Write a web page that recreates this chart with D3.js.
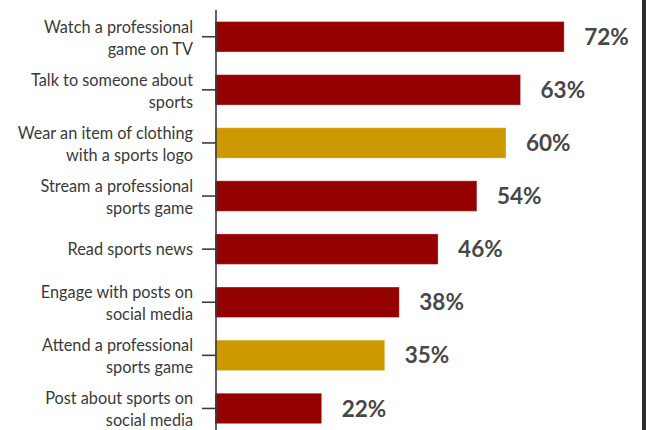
<!DOCTYPE html>
<html>
<head>
<meta charset="utf-8">
<script src="https://cdn.jsdelivr.net/npm/d3@7"></script>
<style>
  html, body { margin: 0; padding: 0; background: #fff; }
  svg { display: block; }
</style>
</head>
<body>
<script>
// Share of fans doing each sports activity (label lines as printed)
const categoryLines = [
  ["Watch a professional", "game on TV"],
  ["Talk to someone about", "sports"],
  ["Wear an item of clothing", "with a sports logo"],
  ["Stream a professional", "sports game"],
  ["Read sports news"],
  ["Engage with posts on", "social media"],
  ["Attend a professional", "sports game"],
  ["Post about sports on", "social media"]
];
const categories = categoryLines.map(l => l.join(" "));
const values = [72, 63, 60, 54, 46, 38, 35, 22];
const highlighted = [false, false, true, false, false, false, true, false];

const W = 646, H = 430;
const RED = "#950000", GOLD = "#cc9900";

const svg = d3.select("body").append("svg")
  .attr("width", W).attr("height", H);

const axisX = 216;
const x = d3.scaleLinear().domain([0, 100]).range([215, 215 + 485]);
const y = d3.scaleBand()
  .domain(categories)
  .range([10.2, 10.2 + 53.1 * categories.length])
  .paddingInner(0.426)
  .paddingOuter(0.213);

// bars
svg.append("g").selectAll("rect")
  .data(categories)
  .join("rect")
  .attr("x", x(0))
  .attr("y", d => y(d))
  .attr("width", (d, i) => x(values[i]) - x(0))
  .attr("height", y.bandwidth())
  .attr("fill", (d, i) => highlighted[i] ? GOLD : RED)
  .attr("stroke", "#fff")
  .attr("stroke-opacity", 0.35)
  .attr("stroke-width", 1);

// value labels
svg.append("g").selectAll("text")
  .data(categories)
  .join("text")
  .attr("x", (d, i) => x(values[i]) + 20)
  .attr("y", d => y(d) + y.bandwidth() / 2)
  .attr("dy", "0.36em")
  .attr("font-family", "Lato, 'Open Sans', sans-serif")
  .attr("font-weight", "bold")
  .attr("font-size", 22.5)
  .attr("fill", "#474747")
  .text((d, i) => values[i] + "%");

// category axis
const axis = d3.axisLeft(y).tickSize(14).tickPadding(9).tickSizeOuter(0);
const gAxis = svg.append("g")
  .attr("transform", `translate(${axisX},0)`)
  .call(axis);

gAxis.select(".domain")
  .attr("d", `M0,10V${H + 10}`)
  .attr("stroke", "#3c3c3c")
  .attr("stroke-width", 1.6);
gAxis.selectAll(".tick line")
  .attr("stroke", "#3c3c3c")
  .attr("stroke-width", 1.6);

const lh = 22;
gAxis.selectAll(".tick text")
  .attr("font-family", "Lato, 'Open Sans', sans-serif")
  .attr("font-size", 16.3)
  .attr("fill", "#3a3a3a")
  .attr("dy", null)
  .each(function(d, i) {
    const t = d3.select(this);
    const xPos = t.attr("x");
    const lines = categoryLines[i];
    const first = lines.length === 1 ? 5.5 : -4;
    t.text(null);
    lines.forEach((l, j) => {
      t.append("tspan")
        .attr("x", xPos)
        .attr("y", first + j * lh)
        .text(l);
    });
  });

// dark frame edge on the right
svg.append("rect")
  .attr("x", 642).attr("y", 0)
  .attr("width", W - 642).attr("height", H)
  .attr("fill", "#2e2e2e");
</script>
</body>
</html>
